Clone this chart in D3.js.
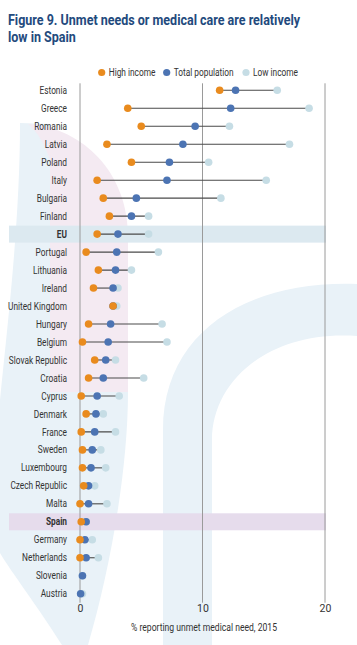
<!DOCTYPE html>
<html>
<head>
<meta charset="utf-8">
<script src="https://cdn.jsdelivr.net/npm/d3@7"></script>
<style>
  html, body { margin: 0; padding: 0; background: #fff; }
  svg { display: block; }
  text { font-family: Roboto, "Noto Sans", sans-serif; }
</style>
</head>
<body>
<svg id="chart" width="357" height="645"></svg>
<script>
const countries = ["Estonia","Greece","Romania","Latvia","Poland","Italy","Bulgaria","Finland","EU",
  "Portugal","Lithuania","Ireland","United Kingdom","Hungary","Belgium","Slovak Republic","Croatia",
  "Cyprus","Denmark","France","Sweden","Luxembourg","Czech Republic","Malta","Spain","Germany",
  "Netherlands","Slovenia","Austria"];
const highIncome = [11.4, 3.9, 5.0, 2.2, 4.2, 1.4, 1.9, 2.4, 1.4,
  0.5, 1.5, 1.1, 2.7, 0.7, 0.2, 1.2, 0.7,
  0.1, 0.5, 0.1, 0.2, 0.2, 0.3, 0.0, 0.1, 0.0,
  0.0, null, null];
const totalPopulation = [12.7, 12.3, 9.4, 8.4, 7.3, 7.1, 4.6, 4.2, 3.1,
  3.0, 2.9, 2.7, 2.7, 2.5, 2.3, 2.1, 1.9,
  1.4, 1.3, 1.2, 1.0, 0.9, 0.7, 0.7, 0.5, 0.4,
  0.5, 0.2, 0.05];
const lowIncome = [16.1, 18.7, 12.2, 17.1, 10.5, 15.2, 11.5, 5.6, 5.6,
  6.4, 4.2, 3.1, 3.0, 6.7, 7.1, 2.9, 5.2,
  3.2, 1.9, 2.9, 1.7, 2.1, 1.2, 2.2, 0.5, 1.0,
  1.5, 0.2, 0.2];
const xTicks = [0, 10, 20];
const highlighted = { "EU": "#dce9f0", "Spain": "#e6dcec" };
const seriesNames = ["High income", "Total population", "Low income"];
const seriesColors = ["#e98b1e", "#4c74b3", "#c6dde5"];

const svg = d3.select("#chart");

// squeeze a text horizontally so that it looks like the condensed face of the reference
function squeeze(sel, factor) {
  sel.each(function () {
    const w = this.getComputedTextLength();
    d3.select(this).attr("textLength", w * factor).attr("lengthAdjust", "spacingAndGlyphs");
  });
}

// background decoration
const deco = svg.append("g");
deco.append("path")
  .attr("d", "M20,123 L50,124 L50,392 L128,392 C128,470 110,570 88,645 L62,645 C40,610 10,570 0,553 L0,400 C8,320 20,220 20,123 Z")
  .attr("fill", "#e9f2f8");
deco.append("path")
  .attr("d", "M28,124 C85,128 128,175 128,235 L128,392 L50,392 L50,160 C45,145 38,132 28,124 Z")
  .attr("fill", "#f4eaf2");
deco.append("path")
  .attr("d", "M163,645 L163,430 C163,330 250,280 357,284 L357,336 C270,330 212,380 212,440 L212,645 Z")
  .attr("fill", "#e9f2f8");

// title
const title = svg.append("g").attr("fill", "#234a7d").attr("font-weight", "bold");
const t1 = title.append("text").attr("x", 8).attr("y", 25).attr("font-size", 14.5)
  .text("Figure 9. Unmet needs or medical care are relatively");
const t2 = title.append("text").attr("x", 8).attr("y", 42).attr("font-size", 14.5)
  .text("low in Spain");
const titleFactor = 292 / t1.node().getComputedTextLength();
squeeze(title.selectAll("text"), titleFactor);

const x = d3.scaleLinear().domain([0, 20]).range([80, 325]);
const y = d3.scaleBand().domain(countries).range([81.3, 602.7]);
const yc = c => y(c) + y.bandwidth() / 2;

// highlight bands
svg.append("g").selectAll("rect")
  .data(countries.filter(c => highlighted[c]))
  .join("rect")
  .attr("x", 9).attr("width", 317)
  .attr("y", c => y(c) + 0.5).attr("height", y.bandwidth() - 1)
  .attr("fill", c => highlighted[c]);

// grid lines
svg.append("g").selectAll("line")
  .data(xTicks).join("line")
  .attr("x1", d => x(d)).attr("x2", d => x(d))
  .attr("y1", y.range()[0] + 2).attr("y2", y.range()[1])
  .attr("stroke", "#9a9a9a").attr("stroke-width", 1);

// axis labels
const xAxis = d3.axisBottom(x).tickValues(xTicks).tickSize(0).tickPadding(0).tickFormat(d3.format("d"));
const ax = svg.append("g").attr("transform", "translate(0,604)").call(xAxis);
ax.select(".domain").remove();
ax.selectAll("text").attr("font-size", 10.5).attr("fill", "#333").attr("dy", "0.72em")
  .style("font-family", "Roboto, sans-serif");

const axTitle = svg.append("text").attr("x", 204).attr("y", 631).attr("text-anchor", "middle")
  .attr("font-size", 10).attr("fill", "#333")
  .text("% reporting unmet medical need, 2015");
squeeze(axTitle, 146 / axTitle.node().getComputedTextLength());

// country labels
const labels = svg.append("g").selectAll("text")
  .data(countries).join("text")
  .attr("x", 67).attr("y", c => yc(c)).attr("dy", "0.35em")
  .attr("text-anchor", "end").attr("font-size", 10.3).attr("fill", "#333")
  .attr("font-weight", c => highlighted[c] ? "bold" : "normal")
  .text(c => c);
const ukWidth = labels.filter(c => c === "United Kingdom").node().getComputedTextLength();
squeeze(labels, 59 / ukWidth);

// connecting lines
const rows = countries.map((c, i) => ({ c, v: [highIncome[i], totalPopulation[i], lowIncome[i]] }));
svg.append("g").selectAll("line")
  .data(rows).join("line")
  .attr("x1", d => x(d3.min(d.v))).attr("x2", d => x(d3.max(d.v)))
  .attr("y1", d => yc(d.c)).attr("y2", d => yc(d.c))
  .attr("stroke", "#4a4a4a").attr("stroke-width", 1.1);

// dots: low income, total, high income on top
const seriesData = [highIncome, totalPopulation, lowIncome];
[2, 1, 0].forEach(s => {
  svg.append("g").selectAll("circle")
    .data(countries.map((c, i) => ({ c, v: seriesData[s][i] })).filter(d => d.v != null))
    .join("circle")
    .attr("cx", d => x(d.v)).attr("cy", d => yc(d.c)).attr("r", 3.8)
    .attr("fill", seriesColors[s]);
});

// legend
const legendX = [101.7, 166.7, 246];
const lg = svg.append("g");
seriesNames.forEach((n, i) => {
  lg.append("circle").attr("cx", legendX[i]).attr("cy", 72.5).attr("r", 3.6).attr("fill", seriesColors[i]);
  lg.append("text").attr("x", legendX[i] + 7).attr("y", 72.5).attr("dy", "0.35em")
    .attr("font-size", 10).attr("fill", "#333").text(n);
});
const lgTexts = lg.selectAll("text");
const tpWidth = lgTexts.filter((d, i) => i === 1).node().getComputedTextLength();
squeeze(lgTexts, 60 / tpWidth);
</script>
</body>
</html>
